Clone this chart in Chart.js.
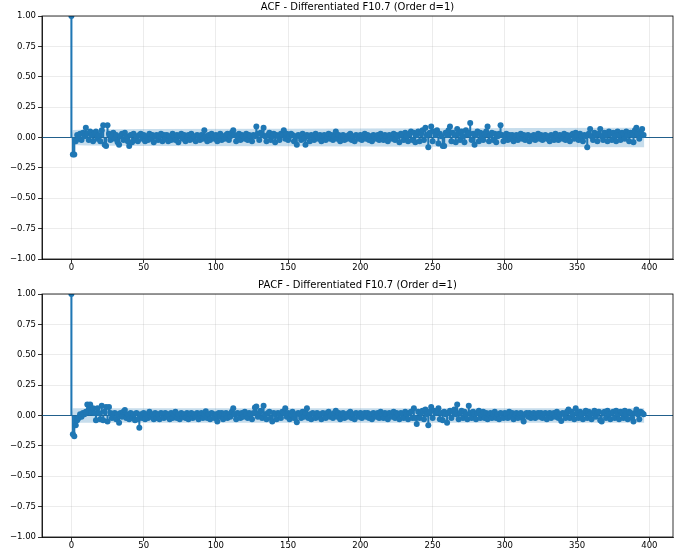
<!DOCTYPE html>
<html>
<head>
<meta charset="utf-8">
<title>ACF / PACF - Differentiated F10.7</title>
<script src="https://cdn.jsdelivr.net/npm/chart.js@4.4.1/dist/chart.umd.min.js"></script>
<style>
  html, body { margin: 0; padding: 0; background: #fff; }
  #wrap { position: relative; width: 689px; height: 550px; }
  #wrap canvas { position: absolute; left: 0; }
  #acfChart { top: 0; }
  #pacfChart { top: 275px; }
</style>
</head>
<body>
<div id="wrap">
  <canvas id="acfChart" width="689" height="275"></canvas>
  <canvas id="pacfChart" width="689" height="275"></canvas>
</div>
<script>
/* =========================================================
   DATA (lags 0..396)
========================================================= */
const acfTitle = 'ACF - Differentiated F10.7 (Order d=1)';
const pacfTitle = 'PACF - Differentiated F10.7 (Order d=1)';

const xTicks = [0, 50, 100, 150, 200, 250, 300, 350, 400];
const yTicks = [-1, -0.75, -0.5, -0.25, 0, 0.25, 0.5, 0.75, 1];

const acfValues = [
    1.00, -0.14, -0.14, -0.03, 0.02, -0.01, 0.03, -0.02, 0.04, 0.01,
    0.08, 0.03, -0.02, 0.05, 0.02, -0.03, 0.04, 0.05, -0.01, 0.02,
    -0.03, 0.06, 0.10, -0.06, -0.07, 0.10, 0.03, -0.02, 0.01, 0.04,
    -0.01, 0.02, -0.04, -0.06, 0.01, 0.03, -0.02, 0.04, 0.01, -0.03,
    -0.07, 0.02, -0.04, 0.03, -0.02, 0.01, -0.03, 0.02, 0.03, -0.01,
    0.02, -0.03, 0.01, -0.02, 0.03, -0.01, 0.02, -0.04, 0.01, 0.02,
    -0.02, 0.01, 0.03, -0.03, 0.02, -0.01, 0.02, -0.03, 0.01, -0.02,
    0.03, 0.01, -0.02, 0.02, -0.04, 0.01, 0.03, -0.01, 0.02, -0.03,
    0.01, 0.02, -0.02, 0.03, -0.01, 0.01, -0.03, 0.02, 0.01, -0.02,
    0.02, -0.01, 0.06, 0.01, -0.03, 0.02, -0.02, 0.03, 0.01, -0.01,
    0.02, -0.03, 0.01, 0.03, -0.02, 0.01, -0.01, 0.02, 0.03, -0.02,
    0.01, 0.04, 0.06, 0.02, -0.03, 0.01, 0.03, -0.02, 0.02, 0.01,
    -0.01, 0.03, -0.02, 0.02, 0.01, -0.03, 0.02, 0.01, 0.09, 0.03,
    -0.02, 0.04, 0.02, 0.08, 0.01, -0.03, 0.02, 0.04, -0.02, 0.01,
    0.03, -0.04, 0.02, 0.01, -0.02, 0.03, 0.02, 0.06, -0.01, 0.03,
    -0.02, 0.01, 0.03, 0.02, -0.03, 0.01, -0.06, 0.02, 0.01, -0.02,
    0.03, -0.01, -0.06, 0.02, 0.01, -0.03, 0.02, 0.01, -0.02, 0.03,
    0.01, -0.01, 0.02, -0.03, 0.01, 0.02, -0.02, 0.01, 0.03, -0.01,
    0.02, -0.02, 0.01, 0.05, -0.01, 0.02, -0.03, 0.01, 0.02, -0.02,
    0.01, -0.01, 0.02, 0.03, -0.02, 0.01, -0.03, 0.02, 0.01, -0.01,
    0.02, -0.02, 0.01, 0.03, -0.01, 0.02, -0.02, 0.01, -0.03, 0.02,
    0.01, -0.01, 0.02, -0.02, 0.03, 0.01, -0.02, 0.02, 0.01, -0.03,
    0.02, 0.01, -0.01, 0.03, -0.02, 0.02, 0.01, -0.04, 0.03, 0.02,
    -0.02, 0.04, 0.01, -0.03, 0.03, 0.05, -0.02, 0.04, -0.04, 0.02,
    0.05, -0.03, 0.03, 0.06, -0.02, 0.08, 0.02, -0.08, 0.04, 0.09,
    -0.03, 0.05, 0.02, 0.06, -0.05, 0.03, 0.01, -0.07, -0.07, 0.04,
    0.02, 0.06, 0.09, -0.03, 0.04, 0.02, -0.04, 0.07, 0.03, -0.02,
    0.05, 0.01, -0.04, 0.06, 0.03, 0.04, 0.12, -0.02, 0.03, -0.06,
    0.02, 0.05, -0.03, 0.04, 0.01, -0.02, 0.03, 0.05, 0.09, -0.03,
    0.02, 0.04, -0.02, 0.03, -0.04, 0.01, 0.03, 0.10, 0.02, -0.03,
    0.01, 0.03, -0.02, 0.02, -0.01, 0.02, -0.03, 0.01, 0.02, -0.02,
    0.01, 0.03, -0.01, 0.02, -0.02, 0.01, 0.02, -0.03, 0.01, -0.01,
    0.02, -0.02, 0.01, 0.03, -0.01, 0.02, -0.02, 0.01, 0.02, -0.01,
    0.01, -0.03, 0.02, 0.01, -0.02, 0.03, 0.01, -0.02, 0.02, 0.01,
    -0.01, 0.03, -0.02, 0.02, 0.01, -0.03, 0.02, 0.03, -0.01, 0.04,
    0.02, -0.02, 0.03, 0.01, -0.03, 0.02, 0.01, -0.08, 0.03, 0.07,
    0.01, -0.02, 0.04, 0.02, -0.03, 0.03, 0.07, 0.01, -0.02, 0.04,
    0.02, -0.03, 0.05, 0.03, -0.02, 0.04, 0.01, -0.03, 0.05, 0.02,
    -0.02, 0.04, 0.03, -0.01, 0.05, 0.02, -0.03, 0.04, 0.02, -0.04,
    0.06, 0.08, 0.03, -0.01, 0.05, 0.07, 0.02
];

const pacfValues = [
    1.00, -0.155, -0.17, -0.08, -0.04, -0.02, 0.01, -0.01, 0.02, 0.01,
    0.03, 0.09, 0.05, 0.09, 0.03, 0.06, 0.02, -0.04, 0.06, 0.02,
    -0.03, 0.08, -0.04, 0.03, 0.07, -0.05, 0.07, 0.02, -0.02, 0.01,
    0.02, -0.03, 0.01, -0.06, 0.02, -0.01, 0.03, 0.045, -0.02, 0.01,
    -0.03, 0.02, -0.02, 0.01, -0.04, 0.02, -0.03, -0.10, 0.01, -0.02,
    0.02, -0.03, 0.01, -0.02, 0.03, -0.01, 0.01, -0.03, 0.02, -0.02,
    0.01, -0.03, 0.02, 0.01, -0.02, 0.02, -0.01, 0.01, -0.03, 0.02,
    -0.02, 0.01, 0.03, -0.02, 0.01, -0.03, 0.02, -0.01, 0.01, -0.02,
    0.02, -0.03, 0.01, 0.02, -0.02, 0.01, -0.01, 0.02, -0.03, 0.01,
    0.02, -0.02, 0.01, 0.035, -0.02, 0.01, -0.03, 0.02, 0.01, -0.02,
    0.01, -0.05, 0.02, -0.01, 0.02, -0.03, 0.01, 0.02, -0.02, 0.01,
    -0.01, 0.03, 0.06, 0.01, -0.03, 0.02, 0.01, -0.02, 0.02, -0.01,
    0.03, 0.01, -0.02, 0.02, 0.01, -0.03, 0.02, 0.065, 0.075, -0.01,
    0.02, 0.04, -0.02, 0.08, 0.01, -0.03, 0.02, 0.03, -0.02, -0.05,
    0.02, 0.01, -0.03, 0.02, 0.01, -0.02, 0.03, 0.02, 0.06, -0.01,
    0.02, -0.03, 0.01, 0.03, -0.02, 0.01, -0.055, 0.02, 0.01, -0.02,
    0.03, -0.01, 0.02, 0.06, -0.02, 0.01, -0.03, 0.02, 0.01, -0.02,
    0.02, -0.01, 0.01, -0.03, 0.02, 0.01, -0.02, 0.02, 0.03, -0.01,
    0.01, -0.02, 0.02, 0.04, -0.01, 0.02, -0.03, 0.01, 0.02, -0.02,
    0.01, -0.01, 0.02, 0.03, -0.02, 0.01, -0.03, 0.02, 0.01, -0.01,
    0.02, -0.02, 0.01, 0.02, -0.01, 0.02, -0.02, 0.01, -0.03, 0.02,
    0.01, -0.01, 0.02, -0.02, 0.03, 0.01, -0.02, 0.02, 0.01, -0.03,
    0.02, 0.01, -0.01, 0.03, -0.02, 0.02, 0.01, -0.03, 0.02, 0.01,
    -0.02, 0.03, 0.01, -0.03, 0.02, 0.03, -0.02, 0.06, -0.02, -0.07,
    0.03, -0.02, 0.02, 0.04, -0.03, 0.05, 0.01, -0.08, 0.03, 0.07,
    -0.02, 0.04, 0.02, 0.03, 0.06, -0.03, 0.02, -0.04, 0.03, 0.01,
    -0.06, 0.02, 0.04, -0.02, 0.03, 0.05, 0.01, 0.09, -0.03, 0.02,
    0.04, -0.02, 0.03, 0.01, -0.03, 0.08, 0.02, -0.02, 0.03, 0.01,
    -0.03, 0.02, 0.04, -0.02, 0.01, 0.03, -0.02, 0.02, -0.03, 0.01,
    0.02, -0.02, 0.01, 0.03, -0.02, 0.01, -0.03, 0.02, 0.01, -0.02,
    0.02, 0.01, -0.02, 0.03, -0.01, 0.02, -0.03, 0.01, 0.02, -0.02,
    0.01, 0.02, -0.02, -0.05, 0.01, 0.02, -0.01, 0.02, -0.02, 0.01,
    0.02, -0.02, 0.01, 0.02, -0.01, 0.02, -0.02, 0.01, 0.02, -0.03,
    0.01, 0.02, -0.02, 0.01, 0.02, -0.01, 0.03, -0.02, 0.01, -0.045,
    0.02, 0.01, -0.02, 0.03, 0.05, -0.02, 0.03, 0.01, -0.03, 0.06,
    0.02, -0.02, 0.03, 0.01, -0.03, 0.02, 0.04, -0.02, 0.03, 0.01,
    -0.03, 0.02, 0.04, -0.01, 0.02, 0.03, -0.04, -0.05, 0.02, 0.03,
    -0.02, 0.04, 0.01, -0.03, 0.02, 0.03, -0.02, 0.04, 0.01, -0.03,
    0.03, 0.02, -0.02, 0.04, 0.01, -0.03, 0.03, 0.02, -0.02, -0.05,
    0.02, 0.05, 0.01, -0.03, 0.03, 0.02, 0.01
];

// 95% confidence band half-widths (read at a few lags)
const acfBandLags = [-0.5, 0, 1, 10, 50, 150, 250, 396.5];
const acfBandHalf = [0, 0, 0.062, 0.066, 0.070, 0.073, 0.077, 0.080];
const pacfBandLags = [-0.5, 0, 1, 396.5];
const pacfBandHalf = [0, 0, 0.060, 0.060];

const xMin = -20.35;
const xMax = 416.35;

/* =========================================================
   STYLE
========================================================= */
const C0 = '#1f77b4';
Chart.defaults.font.family = '"DejaVu Sans", sans-serif';
Chart.defaults.color = '#000';

// matplotlib-like frame (top/right spines) and title centred on the axes
const axesDecor = {
    id: 'axesDecor',
    afterDraw(chart, args, opts) {
        const { ctx, chartArea: a } = chart;
        ctx.save();
        ctx.strokeStyle = '#000';
        ctx.lineWidth = 0.8;
        ctx.strokeRect(a.left, a.top, a.right - a.left, a.bottom - a.top);
        ctx.fillStyle = '#000';
        ctx.font = '10px "DejaVu Sans"';
        ctx.textAlign = 'center';
        ctx.textBaseline = 'middle';
        ctx.fillText(opts.text, (a.left + a.right) / 2, a.top - 9);
        ctx.restore();
    }
};

function buildChart(canvasId, title, values, bandLags, bandHalf, padTop, xAxisHeight) {
    const points = values.map((v, i) => ({ x: i, y: v }));
    const upper = bandLags.map((x, i) => ({ x: x, y: bandHalf[i] }));
    const lower = bandLags.map((x, i) => ({ x: x, y: -bandHalf[i] }));

    return new Chart(document.getElementById(canvasId), {
        type: 'scatter',
        data: {
            datasets: [
                {
                    type: 'scatter',
                    data: points,
                    backgroundColor: C0,
                    borderWidth: 0,
                    pointRadius: 3,
                    order: 0
                },
                {
                    type: 'bar',
                    data: points,
                    backgroundColor: C0,
                    barThickness: 1.4,
                    order: 1
                },
                {
                    type: 'line',
                    data: [{ x: xMin, y: 0 }, { x: xMax, y: 0 }],
                    borderColor: '#22608c',
                    borderWidth: 1,
                    pointRadius: 0,
                    order: 2
                },
                {
                    type: 'line',
                    data: upper,
                    borderWidth: 0,
                    pointRadius: 0,
                    backgroundColor: 'rgba(31,119,180,0.25)',
                    fill: '+1',
                    order: 3
                },
                {
                    type: 'line',
                    data: lower,
                    borderWidth: 0,
                    pointRadius: 0,
                    fill: false,
                    order: 4
                }
            ]
        },
        options: {
            responsive: false,
            animation: false,
            events: [],
            layout: { padding: { top: padTop, right: 16, left: 0, bottom: 0 } },
            plugins: {
                legend: { display: false },
                tooltip: { enabled: false },
                axesDecor: { text: title }
            },
            scales: {
                x: {
                    type: 'linear',
                    min: xMin,
                    max: xMax,
                    offset: false,
                    afterBuildTicks: s => { s.ticks = xTicks.map(v => ({ value: v })); },
                    afterFit: s => { s.height = xAxisHeight; },
                    ticks: {
                        font: { size: 8.5 },
                        padding: 0,
                        maxRotation: 0,
                        callback: v => String(v)
                    },
                    grid: {
                        offset: false,
                        color: 'rgba(176,176,176,0.3)',
                        lineWidth: 0.8,
                        tickLength: 4,
                        tickColor: '#000',
                        tickWidth: 0.8
                    },
                    border: { color: '#000', width: 0.8 }
                },
                y: {
                    type: 'linear',
                    min: -1,
                    max: 1,
                    afterBuildTicks: s => { s.ticks = yTicks.map(v => ({ value: v })); },
                    afterFit: s => { s.width = 42; },
                    ticks: {
                        font: { size: 8.5 },
                        padding: 2,
                        callback: v => v.toFixed(2).replace('-', '\u2212')
                    },
                    grid: {
                        color: 'rgba(176,176,176,0.3)',
                        lineWidth: 0.8,
                        tickLength: 4,
                        tickColor: '#000',
                        tickWidth: 0.8
                    },
                    border: { color: '#000', width: 0.8 }
                }
            }
        },
        plugins: [axesDecor]
    });
}

buildChart('acfChart', acfTitle, acfValues, acfBandLags, acfBandHalf, 16, 16);
buildChart('pacfChart', pacfTitle, pacfValues, pacfBandLags, pacfBandHalf, 19, 13);
</script>
</body>
</html>
